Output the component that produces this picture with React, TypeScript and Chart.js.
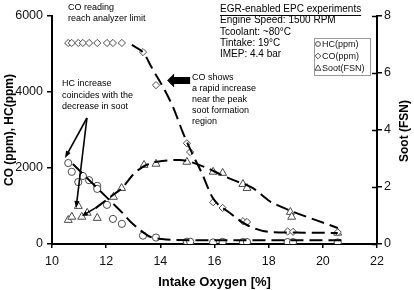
import React, { useEffect, useRef } from "react";
import { Chart, registerables } from "chart.js";

Chart.register(...registerables);

const FONT = "'Liberation Sans', Arial, Helvetica, sans-serif";

// ---- measured data ----
const hcX = [10.6, 10.73, 10.97, 11.14, 11.37, 11.67, 11.67, 12.03, 12.25, 12.58, 13.36, 13.84, 14.98, 15.1, 15.95, 16.3, 17.05, 17.2, 18.7, 18.9, 20.55];
const hcY = [2130, 1900, 1630, 1790, 1680, 1530, 1450, 1030, 660, 530, 220, 170, 60, 60, 40, 55, 50, 50, 50, 50, 40];

const coX = [10.6, 10.73, 10.97, 11.14, 11.37, 11.67, 12.03, 12.25, 12.58, 13.36, 13.84, 14.98, 15.1, 15.95, 16.3, 17.05, 17.2, 18.7, 18.9, 20.55];
const coY = [5290, 5290, 5290, 5290, 5290, 5290, 5290, 5290, 5290, 5050, 4180, 2650, 2420, 1100, 950, 600, 580, 330, 320, 310];

const sootX = [10.6, 10.73, 10.97, 11.1, 11.3, 11.67, 12.27, 12.57, 13.4, 13.84, 14.98, 15.95, 16.3, 17.05, 17.2, 18.8, 18.85, 20.55];
const sootY = [0.84, 0.95, 1.33, 0.95, 1.09, 0.91, 1.65, 1.96, 2.77, 2.81, 2.88, 2.53, 2.49, 2.1, 1.96, 1.12, 0.95, 0.39];

// trend (fit) lines
const hcFitX = [10.77, 11.5, 12.03, 12.6, 12.88, 13.25, 13.62, 14.06, 14.6, 16, 18, 20.9];
const hcFitY = [2105, 1590, 1220, 820, 600, 370, 190, 130, 105, 100, 100, 100];

const coFitX = [12.95, 13.4, 13.69, 14.1, 14.47, 14.84, 15.17, 15.53, 15.94, 16.57, 17.2, 18.04, 19.0, 20.55];
const coFitY = [5240, 5010, 4630, 4130, 3600, 2920, 2390, 1870, 1210, 816, 500, 316, 300, 290];

const sootFitX = [11.6, 12.25, 12.58, 13.06, 13.5, 14.06, 14.72, 15.0, 15.72, 16.2, 16.68, 17.42, 18.04, 18.3, 20.55];
const sootFitY = [1.25, 1.72, 1.96, 2.5, 2.78, 2.91, 2.95, 2.91, 2.67, 2.45, 2.25, 1.96, 1.5, 1.37, 0.56];

const xTicks = [10, 12, 14, 16, 18, 20, 22];
const ppmTicks = [0, 2000, 4000, 6000];
const fsnTicks = [0, 2, 4, 6, 8];

const infoLines = ["EGR-enabled EPC experiments", "Engine Speed: 1500 RPM", "Tcoolant: ~80°C", "Tintake: 19°C", "IMEP: 4.4 bar"];
const coNote = ["CO reading", "reach analyzer limit"];
const hcNote = ["HC increase", "coincides with the", "decrease in soot"];
const coShows = ["CO shows", "a rapid increase", "near the peak", "soot formation", "region"];
const legendItems = [
  { label: "HC(ppm)", style: "circle" },
  { label: "CO(ppm)", style: "rectRot" },
  { label: "Soot(FSN)", style: "triangle" },
];

const pts = (xs: number[], ys: number[]) => xs.map((x, i) => ({ x, y: ys[i] }));

const MARK = "#4a4a4a";

function arrow(ctx: CanvasRenderingContext2D, x1: number, y1: number, x2: number, y2: number, len = 6, half = 2.5) {
  const a = Math.atan2(y2 - y1, x2 - x1);
  const c = Math.cos(a), s = Math.sin(a);
  ctx.beginPath();
  ctx.moveTo(x1, y1);
  ctx.lineTo(x2 - c * len * 0.8, y2 - s * len * 0.8);
  ctx.stroke();
  ctx.beginPath();
  ctx.moveTo(x2, y2);
  ctx.lineTo(x2 - len * c + half * s, y2 - len * s - half * c);
  ctx.lineTo(x2 - len * c - half * s, y2 - len * s + half * c);
  ctx.closePath();
  ctx.fill();
}

const annotPlugin = {
  id: "annot",
  afterDraw(chart: any) {
    const ctx: CanvasRenderingContext2D = chart.ctx;
    const xs = chart.scales.x, ys = chart.scales.y, ys1 = chart.scales.y1;
    const area = chart.chartArea;
    const px = (v: number) => xs.getPixelForValue(v);
    const py = (v: number) => ys.getPixelForValue(v);
    const ps = (v: number) => ys1.getPixelForValue(v);
    ctx.save();
    // inner ticks of right axis
    ctx.strokeStyle = "#000";
    ctx.lineWidth = 1.5;
    fsnTicks.forEach((t) => {
      const yy = Math.round(ps(t)) + 0.5;
      ctx.beginPath();
      ctx.moveTo(area.right - 5, yy);
      ctx.lineTo(area.right, yy);
      ctx.stroke();
    });

    // axis titles
    ctx.fillStyle = "#000";
    ctx.font = `bold 12px ${FONT}`;
    ctx.textAlign = "center";
    ctx.textBaseline = "middle";
    ctx.save();
    ctx.translate(10, (area.top + area.bottom) / 2);
    ctx.rotate(-Math.PI / 2);
    ctx.fillText("CO (ppm), HC(ppm)", 0, 0);
    ctx.restore();
    ctx.save();
    ctx.translate(405, (area.top + area.bottom) / 2 + 1);
    ctx.rotate(-Math.PI / 2);
    ctx.fillText("Soot (FSN)", 0, 0);
    ctx.restore();
    ctx.font = `bold 13px ${FONT}`;
    ctx.fillText("Intake Oxygen [%]", (area.left + area.right) / 2, 282);

    // text notes
    ctx.textAlign = "left";
    ctx.font = `9px ${FONT}`;
    coNote.forEach((t, i) => ctx.fillText(t, 68, 8 + i * 11));
    hcNote.forEach((t, i) => ctx.fillText(t, 62, 84 + i * 11.5));
    coShows.forEach((t, i) => ctx.fillText(t, 192, 78 + i * 11));

    ctx.font = `10px ${FONT}`;
    infoLines.forEach((t, i) => ctx.fillText(t, 220, 9.5 + i * 11.2));
    const w0 = ctx.measureText(infoLines[0]).width;
    ctx.lineWidth = 1;
    ctx.beginPath();
    ctx.moveTo(220, 15.5);
    ctx.lineTo(220 + w0, 15.5);
    ctx.stroke();

    // arrows
    ctx.fillStyle = "#000";
    ctx.strokeStyle = "#000";
    ctx.lineWidth = 1.6;
    arrow(ctx, px(11.29), py(3316), px(10.48), py(2263), 7, 2.6);
    arrow(ctx, px(11.29), py(3316), px(10.89), py(947), 7, 2.6);
    arrow(ctx, px(11.59), ps(1.26), px(11.1), ps(0.98), 6, 2.4);

    // big block arrow
    {
      const tail = px(15.1), tip = px(14.25), yc = py(4300);
      const headBase = tip + 7;
      ctx.beginPath();
      ctx.moveTo(tip, yc);
      ctx.lineTo(headBase, yc - 7);
      ctx.lineTo(headBase, yc - 3.5);
      ctx.lineTo(tail, yc - 3.5);
      ctx.lineTo(tail, yc + 3.5);
      ctx.lineTo(headBase, yc + 3.5);
      ctx.lineTo(headBase, yc + 7);
      ctx.closePath();
      ctx.fill();
    }

    // legend box
    ctx.fillStyle = "#fff";
    ctx.fillRect(314, 38, 56, 37);
    ctx.strokeStyle = "#999";
    ctx.lineWidth = 1;
    ctx.strokeRect(314.5, 38.5, 56, 37);
    ctx.font = `9px ${FONT}`;
    legendItems.forEach((it, i) => {
      const yy = 44 + i * 12;
      ctx.strokeStyle = MARK;
      ctx.lineWidth = 1;
      ctx.beginPath();
      if (it.style === "circle") {
        ctx.arc(318, yy, 2.4, 0, Math.PI * 2);
      } else if (it.style === "rectRot") {
        ctx.moveTo(318, yy - 2.8);
        ctx.lineTo(320.8, yy);
        ctx.lineTo(318, yy + 2.8);
        ctx.lineTo(315.2, yy);
        ctx.closePath();
      } else {
        ctx.moveTo(318, yy - 3);
        ctx.lineTo(321, yy + 2.2);
        ctx.lineTo(315, yy + 2.2);
        ctx.closePath();
      }
      ctx.stroke();
      ctx.fillStyle = "#111";
      ctx.fillText(it.label, 322, yy + 0.5);
    });
    ctx.restore();
  },
};

export default function App() {
  const ref = useRef<HTMLCanvasElement>(null);
  useEffect(() => {
    const fitStyle = {
      showLine: true,
      pointRadius: 0,
      borderColor: "#000",
      borderWidth: 2,
      borderDash: [13, 6],
      cubicInterpolationMode: "monotone" as const,
      fill: false,
    };
    const markStyle = {
      showLine: false,
      borderColor: MARK,
      backgroundColor: "#fff",
      borderWidth: 1,
      pointBorderWidth: 1,
    };
    const tickFont = { family: FONT, size: 12.5 };
    const plain = (v: any) => String(v);
    const chart = new Chart(ref.current!, {
      type: "scatter",
      data: {
        datasets: [
          { ...fitStyle, label: "HC fit", data: pts(hcFitX, hcFitY), yAxisID: "y" },
          { ...fitStyle, label: "CO fit", data: pts(coFitX, coFitY), yAxisID: "y" },
          { ...fitStyle, label: "Soot fit", data: pts(sootFitX, sootFitY), yAxisID: "y1" },
          { ...markStyle, label: "HC(ppm)", data: pts(hcX, hcY), yAxisID: "y", pointStyle: "circle", pointRadius: 3.6 },
          { ...markStyle, label: "CO(ppm)", data: pts(coX, coY), yAxisID: "y", pointStyle: "rectRot", pointRadius: 3.6 },
          { ...markStyle, label: "Soot(FSN)", data: pts(sootX, sootY), yAxisID: "y1", pointStyle: "triangle", pointRadius: 4.6 },
        ],
      },
      options: {
        responsive: false,
        animation: false,
        devicePixelRatio: 1,
        layout: { padding: { top: 16, left: 0, right: 0, bottom: 0 } },
        plugins: { legend: { display: false }, tooltip: { enabled: false }, title: { display: false } },
        scales: {
          x: {
            type: "linear",
            min: 10,
            max: 22,
            afterBuildTicks: (s: any) => { s.ticks = xTicks.map((v) => ({ value: v })); },
            ticks: { font: tickFont, color: "#111", padding: 6, callback: plain },
            grid: { drawOnChartArea: false, drawTicks: true, tickLength: 4, color: "#000", lineWidth: 1.5 },
            border: { color: "#000", width: 2 },
            afterFit: (s: any) => { s.height = 46; },
          },
          y: {
            position: "left",
            min: 0,
            max: 6000,
            afterBuildTicks: (s: any) => { s.ticks = ppmTicks.map((v) => ({ value: v })); },
            ticks: { font: tickFont, color: "#111", padding: 4, callback: plain },
            grid: { drawOnChartArea: false, drawTicks: true, tickLength: 5, color: "#000", lineWidth: 1.5 },
            border: { color: "#000", width: 2 },
            afterFit: (s: any) => { s.width = 52; },
          },
          y1: {
            position: "right",
            min: 0,
            max: 8,
            afterBuildTicks: (s: any) => { s.ticks = fsnTicks.map((v) => ({ value: v })); },
            ticks: { font: tickFont, color: "#111", padding: 2, callback: plain },
            grid: { drawOnChartArea: false, drawTicks: true, tickLength: 5, color: "#000", lineWidth: 1.5 },
            border: { color: "#000", width: 2 },
            afterFit: (s: any) => { s.width = 37; },
          },
        },
      } as any,
      plugins: [annotPlugin],
    });
    return () => chart.destroy();
  }, []);
  return (
    <div style={{ position: "fixed", left: 0, top: 0, width: 414, height: 290, background: "#fff" }}>
      <canvas ref={ref} width={414} height={290} style={{ display: "block", width: 414, height: 290 }} />
    </div>
  );
}
